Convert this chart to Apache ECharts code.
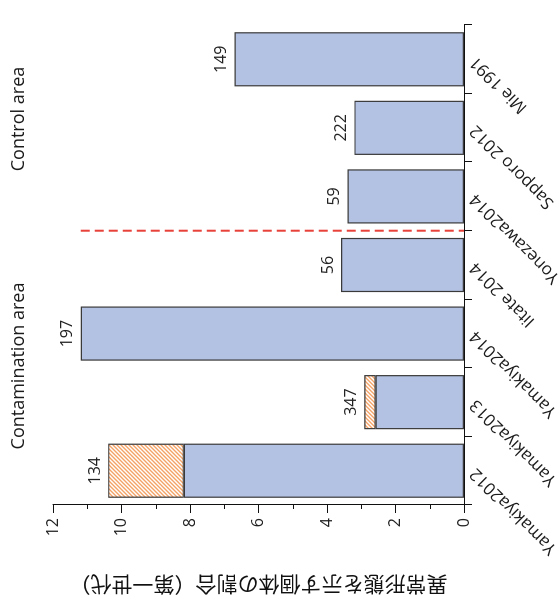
<!DOCTYPE html>
<html>
<head>
<meta charset="utf-8">
<title>異常形態を示す個体の割合</title>
<script src="https://cdn.jsdelivr.net/npm/echarts@6/dist/echarts.min.js"></script>
<style>
  html, body { margin: 0; padding: 0; width: 560px; height: 608px; overflow: hidden; background: #fff; }
  /* The chart is laid out upright (608 x 560) and turned a quarter turn counter-clockwise. */
  #chart {
    position: absolute; left: -24px; top: 24px;
    width: 608px; height: 560px;
    transform: rotate(-90deg); transform-origin: 50% 50%;
  }
</style>
</head>
<body>
<div id="chart"></div>
<script>
// Study sites, left to right in the upright chart
const categories = ['Yamakiya2012', 'Yamakiya2013', 'Yamakiya2014', 'Iitate 2014', 'Yonezawa2014', 'Sapporo 2012', 'Mie 1991'];
// Share of individuals with abnormal morphology (first generation), main part
const baseRatio = [8.18, 2.58, 11.19, 3.59, 3.40, 3.20, 6.70];
// Additional hatched part stacked on top (only where reported)
const extraRatio = [2.21, 0.33, null, null, null, null, null];
// Number of individuals examined, printed above each bar
const sampleSizes = [134, 347, 197, 56, 59, 222, 149];
// Value axis range and step
const valueAxisMin = 0;
const valueAxisMax = 12;
const valueAxisStep = 2;
// Region headings and the index of the last contamination-area site
const groupTitles = ['Contamination area', 'Control area'];
const lastContaminationIndex = 3;
const axisTitle = '異常形態を示す個体の割合（第一世代）';

const latin = '"Open Sans", "Noto Sans", sans-serif';
const cjk = '"Noto Sans CJK JP", "Noto Sans CJK SC", sans-serif';

// Diagonal orange hatch used for the stacked part
function makeHatch() {
  const s = 4;
  const c = document.createElement('canvas');
  c.width = s; c.height = s;
  const g = c.getContext('2d');
  g.fillStyle = '#ffffff';
  g.fillRect(0, 0, s, s);
  g.strokeStyle = '#f5a266';
  g.lineWidth = 1.4;
  g.beginPath();
  g.moveTo(-1, s + 1); g.lineTo(s + 1, -1);
  g.moveTo(-1, 1); g.lineTo(1, -1);
  g.moveTo(s - 1, s + 1); g.lineTo(s + 1, s - 1);
  g.stroke();
  return c;
}

const chart = echarts.init(document.getElementById('chart'), null, { renderer: 'canvas' });

const labelStyle = {
  position: 'top',
  distance: 5,
  fontSize: 16,
  fontFamily: latin,
  color: '#222',
  formatter: p => String(sampleSizes[p.dataIndex])
};

chart.setOption({
  animation: false,
  backgroundColor: '#ffffff',
  grid: { left: 103, right: 25, top: 53, bottom: 96, containLabel: false, outerBoundsMode: 'none' },
  xAxis: {
    type: 'category',
    data: categories,
    position: 'bottom',
    boundaryGap: true,
    axisLine: { show: true, lineStyle: { color: '#111', width: 1 } },
    axisTick: { show: true, inside: false, length: 8, alignWithLabel: false, interval: 0, lineStyle: { color: '#111', width: 1 } },
    axisLabel: { interval: 0, rotate: 45, margin: 9, fontSize: 17, fontFamily: latin, color: '#1a1a1a', hideOverlap: false },
    splitLine: { show: false }
  },
  yAxis: {
    type: 'value',
    min: valueAxisMin,
    max: valueAxisMax,
    interval: valueAxisStep,
    position: 'left',
    name: axisTitle,
    nameLocation: 'middle',
    nameGap: 69,
    nameRotate: 90,
    nameTextStyle: { fontSize: 21, fontFamily: cjk, color: '#111' },
    axisLine: { show: true, lineStyle: { color: '#111', width: 1 } },
    axisTick: { show: true, inside: false, length: 8, lineStyle: { color: '#111', width: 1 } },
    minorTick: { show: true, splitNumber: 2, length: 4, lineStyle: { color: '#111', width: 1 } },
    axisLabel: { margin: 13, fontSize: 16, fontFamily: latin, color: '#222' },
    splitLine: { show: false },
    minorSplitLine: { show: false }
  },
  series: [
    {
      name: 'base',
      type: 'bar',
      stack: 'ratio',
      barCategoryGap: '21%',
      itemStyle: { color: '#b3c1e3', borderColor: '#3a3a3a', borderWidth: 1.2 },
      data: baseRatio.map((v, i) => ({ value: v, label: { show: extraRatio[i] == null } })),
      label: Object.assign({ show: false }, labelStyle)
    },
    {
      name: 'extra',
      type: 'bar',
      stack: 'ratio',
      barCategoryGap: '21%',
      itemStyle: { color: { image: makeHatch(), repeat: 'repeat' }, borderColor: '#3a3a3a', borderWidth: 1.2 },
      data: extraRatio.map(v => (v == null ? '-' : v)),
      label: Object.assign({ show: true }, labelStyle)
    }
  ]
});

// Dashed divider between the contamination and control sites, plus region headings
const xA = chart.convertToPixel({ xAxisIndex: 0 }, categories[lastContaminationIndex]);
const xB = chart.convertToPixel({ xAxisIndex: 0 }, categories[lastContaminationIndex + 1]);
const totals = baseRatio.map((v, i) => v + (extraRatio[i] || 0));
const yTop = chart.convertToPixel({ yAxisIndex: 0 }, Math.max.apply(null, totals));
const yZero = chart.convertToPixel({ yAxisIndex: 0 }, 0);
const xMid = (xA + xB) / 2;

chart.setOption({
  graphic: [
    {
      type: 'line',
      shape: { x1: xMid, y1: yTop, x2: xMid, y2: yZero },
      style: { stroke: '#e8413a', lineWidth: 2, lineDash: [9, 5] },
      z: 10
    },
    {
      type: 'text',
      x: 242, y: 19,
      style: { text: groupTitles[0], font: '18px ' + latin, fill: '#1a1a1a', align: 'center', verticalAlign: 'middle' }
    },
    {
      type: 'text',
      x: 489, y: 19,
      style: { text: groupTitles[1], font: '18px ' + latin, fill: '#1a1a1a', align: 'center', verticalAlign: 'middle' }
    }
  ]
});
</script>
</body>
</html>
